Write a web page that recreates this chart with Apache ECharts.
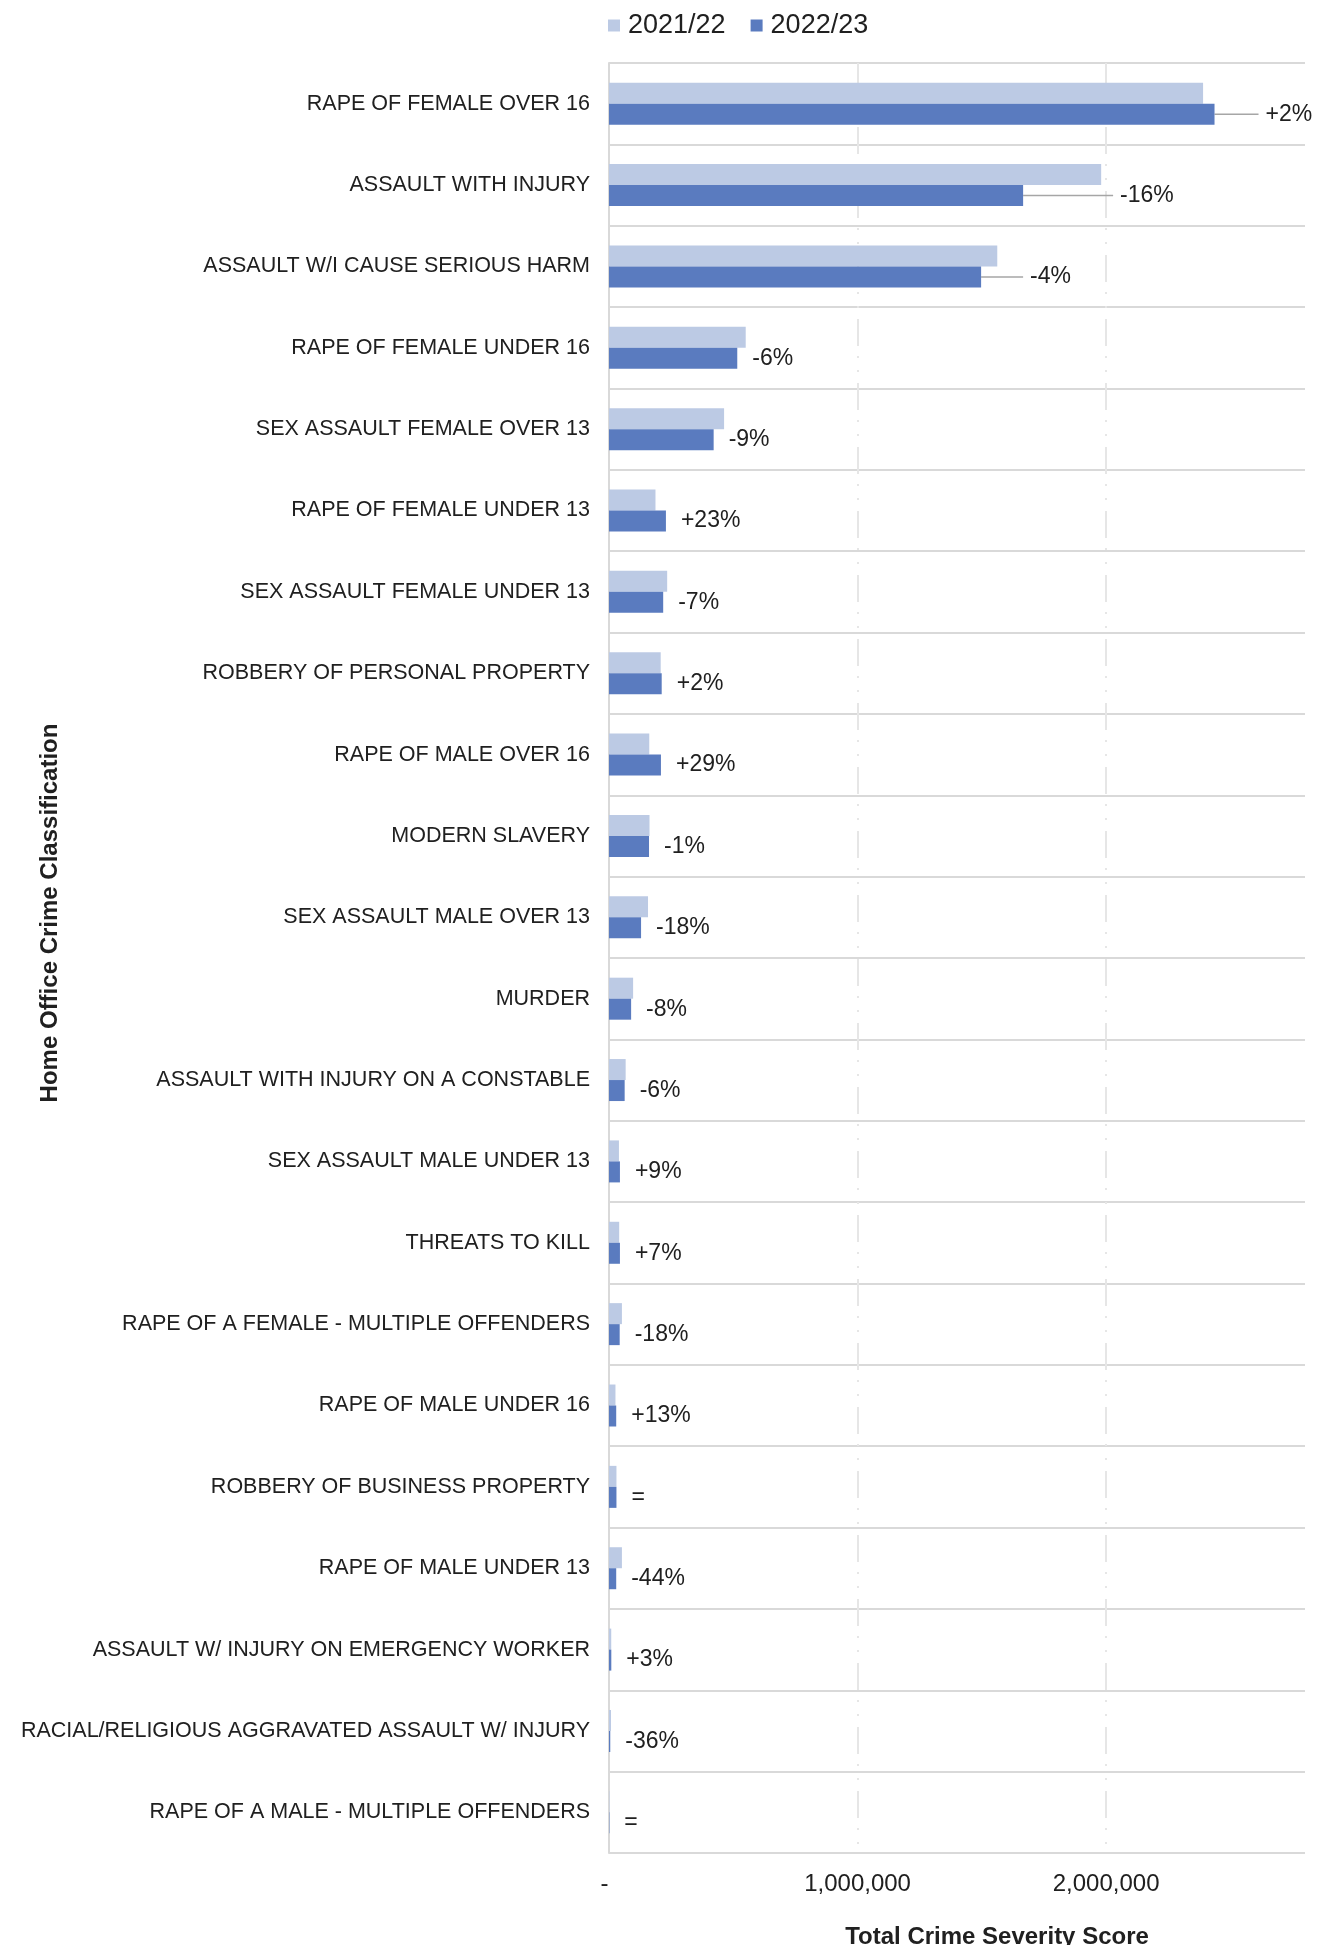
<!DOCTYPE html>
<html>
<head>
<meta charset="utf-8">
<title>Total Crime Severity Score by Home Office Crime Classification</title>
<script src="https://cdn.jsdelivr.net/npm/echarts@6/dist/echarts.min.js"></script>
<style>
  html, body { margin: 0; padding: 0; background: #ffffff; }
  #chart { width: 1326px; height: 1945px; }
</style>
</head>
<body>
<div id="chart"></div>
<script>
// Home Office crime classifications, largest total severity first
const categories = [
  'RAPE OF FEMALE OVER 16',
  'ASSAULT WITH INJURY',
  'ASSAULT W/I CAUSE SERIOUS HARM',
  'RAPE OF FEMALE UNDER 16',
  'SEX ASSAULT FEMALE OVER 13',
  'RAPE OF FEMALE UNDER 13',
  'SEX ASSAULT FEMALE UNDER 13',
  'ROBBERY OF PERSONAL PROPERTY',
  'RAPE OF MALE OVER 16',
  'MODERN SLAVERY',
  'SEX ASSAULT MALE OVER 13',
  'MURDER',
  'ASSAULT WITH INJURY ON A CONSTABLE',
  'SEX ASSAULT MALE UNDER 13',
  'THREATS TO KILL',
  'RAPE OF A FEMALE - MULTIPLE OFFENDERS',
  'RAPE OF MALE UNDER 16',
  'ROBBERY OF BUSINESS PROPERTY',
  'RAPE OF MALE UNDER 13',
  'ASSAULT W/ INJURY ON EMERGENCY WORKER',
  'RACIAL/RELIGIOUS AGGRAVATED ASSAULT W/ INJURY',
  'RAPE OF A MALE - MULTIPLE OFFENDERS'
];

// Total crime severity score per year
const score2021_22 = [
  2390000, 1980000, 1562000, 550000, 463000, 187000, 234000, 208000,
  162000, 163000, 157000, 97000, 67000, 40000, 41000, 52000,
  26000, 30000, 52000, 9000, 8000, 1500
];
const score2022_23 = [
  2436000, 1666000, 1497000, 516000, 421000, 229000, 218000, 212000,
  209000, 161000, 129000, 89000, 63000, 44000, 44000, 43000,
  29000, 30000, 29000, 9300, 5100, 1500
];

// Year-on-year change shown beside the 2022/23 bars
const changeLabels = [
  '+2%', '-16%', '-4%', '-6%', '-9%', '+23%', '-7%', '+2%',
  '+29%', '-1%', '-18%', '-8%', '-6%', '+9%', '+7%', '-18%',
  '+13%', '=', '-44%', '+3%', '-36%', '='
];

// Tick values on the score axis
const scoreTicks = [0, 1000000, 2000000];

const FONT = '"Liberation Sans", Arial, sans-serif';
const TEXT = '#202020';
const LIGHT = '#bccae4';
const DARK = '#5a7bbf';

// The top three change labels sit further out, joined to their bar by a leader line
const leaderShift = [29, 75, 27];
const leaderPad = 7;

const chart = echarts.init(document.getElementById('chart'), null, { renderer: 'canvas' });

chart.setOption({
  backgroundColor: '#ffffff',
  animation: false,
  textStyle: { fontFamily: FONT, color: TEXT },
  legend: {
    left: 603,
    top: 7,
    icon: 'rect',
    itemWidth: 12,
    itemHeight: 12,
    itemGap: 25,
    textStyle: { fontFamily: FONT, fontSize: 27, color: TEXT, padding: [0, 0, 0, 3] },
    data: ['2021/22', '2022/23']
  },
  grid: {
    left: 609,
    right: 21,
    top: 63,
    bottom: 92,
    containLabel: false,
    outerBoundsMode: 'none'
  },
  graphic: [
    {
      type: 'text',
      x: 50,
      y: 913,
      rotation: Math.PI / 2,
      style: {
        text: 'Home Office Crime Classification',
        font: 'bold 24px ' + FONT,
        fill: TEXT,
        align: 'center',
        verticalAlign: 'middle'
      }
    }
  ],
  xAxis: {
    type: 'value',
    min: 0,
    max: 2800000,
    interval: 1000000,
    name: 'Total Crime Severity Score',
    nameLocation: 'middle',
    nameGap: 72,
    nameTextStyle: {
      fontFamily: FONT, fontSize: 24, fontWeight: 'bold', color: TEXT,
      padding: [0, 0, 0, 80]
    },
    axisLine: { show: false },
    axisTick: { show: false },
    axisLabel: {
      fontFamily: FONT,
      fontSize: 24,
      color: TEXT,
      margin: 19,
      showMaxLabel: false,
      rich: { zero: { fontFamily: FONT, fontSize: 24, color: TEXT, padding: [0, 9, 0, 0] } },
      formatter: function (v) {
        if (scoreTicks.indexOf(v) < 0) return '';
        return v === 0 ? '{zero|-}' : v.toLocaleString('en-US');
      }
    },
    splitLine: {
      show: true,
      showMinLine: false,
      showMaxLine: false,
      lineStyle: { color: '#e6e6e6', width: 2, type: [27, 10, 2, 12, 2, 11] }
    }
  },
  yAxis: {
    type: 'category',
    inverse: true,
    data: categories,
    axisLine: { show: true, lineStyle: { color: '#d9d9d9', width: 2 } },
    axisTick: { show: false },
    axisLabel: {
      fontFamily: FONT,
      fontSize: 21.5,
      color: TEXT,
      margin: 19,
      padding: [5, 0, 0, 0]
    },
    splitLine: { show: true, lineStyle: { color: '#d9d9d9', width: 2 } }
  },
  series: [
    {
      name: '2021/22',
      type: 'bar',
      data: score2021_22,
      barWidth: 21,
      barGap: '0%',
      itemStyle: { color: LIGHT },
      label: { show: false }
    },
    {
      name: '2022/23',
      type: 'bar',
      data: score2022_23.map(function (v, i) {
        return i < leaderShift.length
          ? {
              value: v,
              labelLine: { show: true },
              label: { padding: [3, 0, 0, leaderPad], backgroundColor: 'rgba(255,255,255,0)' }
            }
          : v;
      }),
      barWidth: 21,
      barGap: '0%',
      itemStyle: { color: DARK },
      label: {
        show: true,
        position: 'right',
        distance: 15,
        padding: [3, 0, 0, 0],
        fontFamily: FONT,
        fontSize: 23,
        color: TEXT,
        formatter: function (p) { return changeLabels[p.dataIndex]; }
      },
      labelLine: { show: false, lineStyle: { color: '#a6a6a6', width: 1.5 } },
      labelLayout: function (p) {
        if (p.dataIndex < leaderShift.length) {
          return { dx: leaderShift[p.dataIndex] };
        }
        return {};
      }
    }
  ]
});
</script>
</body>
</html>
